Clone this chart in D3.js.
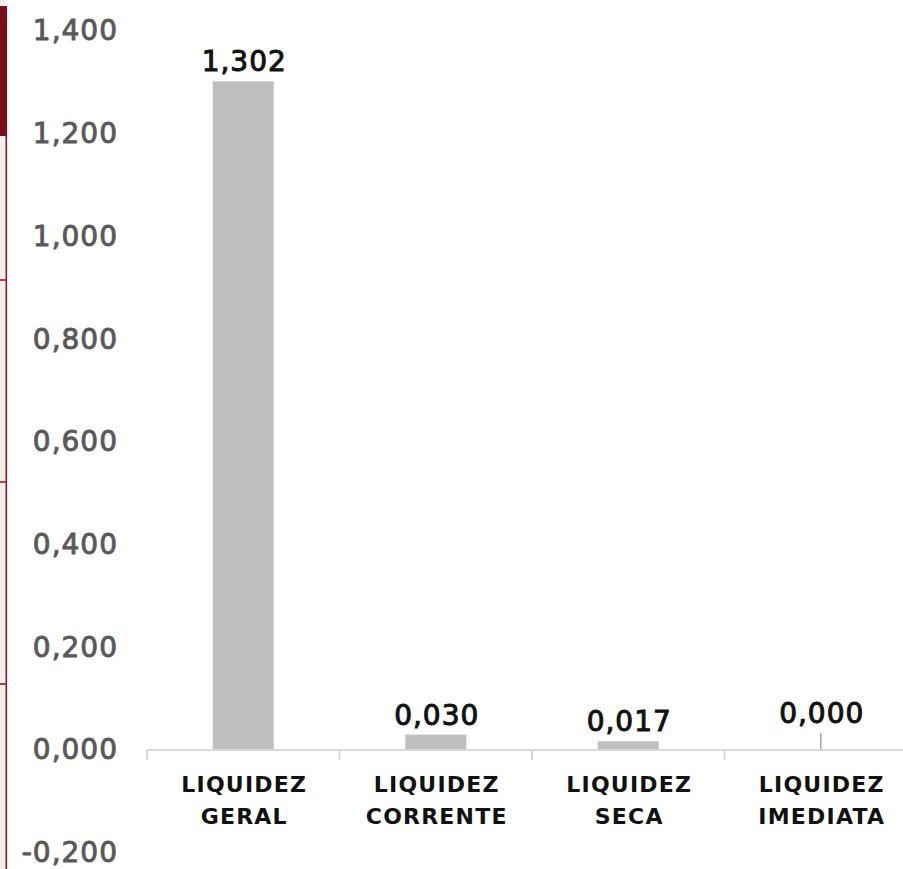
<!DOCTYPE html>
<html>
<head>
<meta charset="utf-8">
<script src="https://cdn.jsdelivr.net/npm/d3@7"></script>
<style>
  body { margin: 0; background: #fff; }
  svg { display: block; font-family: "DejaVu Sans", sans-serif; }
</style>
</head>
<body>
<svg id="chart" width="903" height="869"></svg>
<script>
// data
var categories = ["LIQUIDEZ GERAL", "LIQUIDEZ CORRENTE", "LIQUIDEZ SECA", "LIQUIDEZ IMEDIATA"];
var values = [1.302, 0.030, 0.017, 0.000];
var yTicks = [-0.2, 0, 0.2, 0.4, 0.6, 0.8, 1.0, 1.2, 1.4];

var svg = d3.select("#chart");

// frame on the left edge (page decoration)
svg.append("rect").attr("x", 0).attr("y", 0).attr("width", 6).attr("height", 869).attr("fill", "#f0f0f0");
svg.append("rect").attr("x", 5.5).attr("y", 6).attr("width", 1.6).attr("height", 863).attr("fill", "#8c1420");
svg.append("rect").attr("x", 0).attr("y", 6).attr("width", 7).attr("height", 130).attr("fill", "#7a0e1b");
[280, 482, 684].forEach(function(yy) {
  svg.append("rect").attr("x", 0).attr("y", yy - 1).attr("width", 6).attr("height", 2).attr("fill", "#b0404a");
});

// scales
var y = d3.scaleLinear().domain([-0.2, 1.4]).range([852.7, 31]);
var x = d3.scaleBand().domain(categories).range([147, 917]).padding(0);
var barW = x.bandwidth() * 0.317;
var fmt = function(v) { return d3.format(".3f")(v).replace(".", ",").replace("\u2212", "-"); };

// y axis labels
var yAxis = svg.append("g")
    .attr("transform", "translate(122,0)")
    .call(d3.axisLeft(y).tickValues(yTicks).tickFormat(fmt).tickSize(0).tickPadding(4));
yAxis.select(".domain").remove();
yAxis.selectAll("text")
    .attr("fill", "#595959")
    .attr("stroke", "#595959")
    .attr("stroke-width", 0.9)
    .style("font-family", "'DejaVu Sans', sans-serif")
    .style("font-size", "28px")
    .style("letter-spacing", "1px");

// bars
svg.append("g").selectAll("rect")
  .data(values)
  .enter().append("rect")
    .attr("x", function(d, i) { return x(categories[i]) + (x.bandwidth() - barW) / 2; })
    .attr("y", function(d) { return y(d); })
    .attr("width", barW)
    .attr("height", function(d) { return y(0) - y(d); })
    .attr("fill", "#bfbfbf");

// leader for zero bar
var leader = 17;
svg.append("g").selectAll("line")
  .data(values.map(function(v, i) { return {v: v, c: categories[i]}; }).filter(function(d) { return d.v === 0; }))
  .enter().append("line")
    .attr("x1", function(d) { return x(d.c) + x.bandwidth() / 2; })
    .attr("x2", function(d) { return x(d.c) + x.bandwidth() / 2; })
    .attr("y1", y(0) - leader)
    .attr("y2", y(0))
    .attr("stroke", "#a6a6a6")
    .attr("stroke-width", 1.5);

// x axis line and ticks
var x0 = y(0);
svg.append("line")
    .attr("x1", 147).attr("x2", 903)
    .attr("y1", x0).attr("y2", x0)
    .attr("stroke", "#d9d9d9").attr("stroke-width", 2);
svg.append("g").selectAll("line")
  .data(categories)
  .enter().append("line")
    .attr("x1", function(d) { return x(d); })
    .attr("x2", function(d) { return x(d); })
    .attr("y1", x0).attr("y2", x0 + 10)
    .attr("stroke", "#d9d9d9").attr("stroke-width", 2);

// value labels
svg.append("g").selectAll("text")
  .data(values)
  .enter().append("text")
    .attr("x", function(d, i) { return x(categories[i]) + x.bandwidth() / 2 + 1; })
    .attr("y", function(d) { return (d === 0 ? y(d) - leader : y(d)) - 10; })
    .attr("text-anchor", "middle")
    .attr("fill", "#111")
    .attr("stroke", "#111")
    .attr("stroke-width", 1)
    .style("font-size", "28px")
    .style("letter-spacing", "1px")
    .text(fmt);

// category labels (two lines)
var cat = svg.append("g").selectAll("text")
  .data(categories)
  .enter().append("text")
    .attr("x", function(d) { return x(d) + x.bandwidth() / 2 + 1; })
    .attr("y", x0 + 42)
    .attr("text-anchor", "middle")
    .attr("fill", "#111")
    .style("font-size", "22px")
    .style("font-weight", 700)
    .style("letter-spacing", "1.2px");
cat.each(function(d) {
  var parts = d.split(" ");
  var t = d3.select(this);
  parts.forEach(function(p, k) {
    t.append("tspan")
      .attr("x", t.attr("x"))
      .attr("dy", k === 0 ? 0 : 32)
      .text(p);
  });
});
</script>
</body>
</html>
